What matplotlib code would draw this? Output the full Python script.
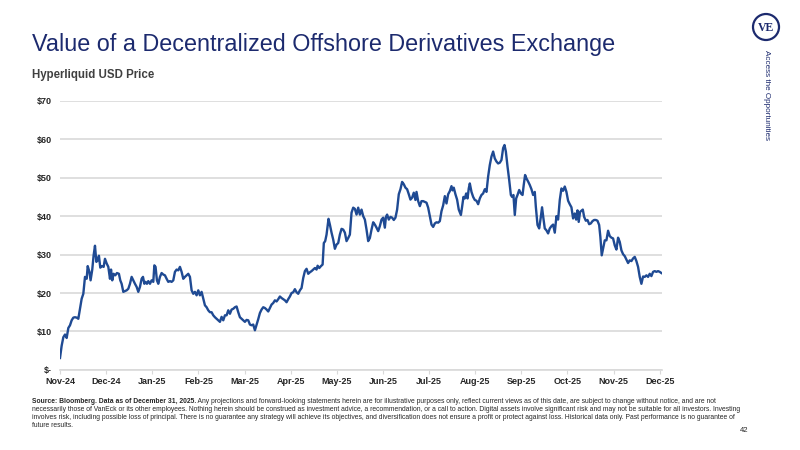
import matplotlib
matplotlib.use("Agg")
import matplotlib.pyplot as plt
from matplotlib.patches import Ellipse

# days since first print (Nov-24) and HYPE price in USD
days = [0.0, 1.1, 2.2, 3.3, 4.4, 5.5, 6.6, 7.7, 8.8, 9.9, 11.0, 12.1, 13.2, 14.3, 15.4, 16.5, 17.6, 18.3, 19.4, 20.2,
        21.3, 22.2, 23.1, 24.0, 24.9, 25.7, 26.6, 27.7, 28.8, 29.7, 30.8, 31.9, 33.0, 33.7, 34.5, 35.4, 36.5, 37.6, 38.9, 39.8,
        40.7, 41.8, 42.9, 44.0, 45.1, 46.2, 47.3, 48.4, 49.5, 50.6, 51.7, 52.8, 53.9, 54.8, 55.7, 56.5, 57.4, 58.3, 59.4, 60.5,
        61.6, 62.3, 63.1, 64.0, 64.9, 66.0, 67.1, 68.2, 69.3, 70.4, 71.5, 72.6, 73.7, 74.8, 75.9, 77.0, 78.1, 79.2, 80.3, 81.4,
        82.5, 83.6, 84.7, 85.8, 86.9, 88.0, 89.1, 90.2, 91.3, 92.4, 93.5, 94.6, 95.7, 96.8, 97.9, 99.0, 100.1, 101.2, 102.3, 103.4,
        104.5, 105.6, 106.7, 107.8, 108.9, 110.0, 111.1, 112.2, 113.3, 114.4, 115.5, 116.6, 117.7, 118.8, 119.9, 121.0, 122.1, 123.2, 124.3, 125.4,
        126.5, 127.6, 128.7,
        130.9, 132.0, 133.1, 134.2, 135.3, 136.4, 137.5, 138.6, 139.7, 140.8, 141.9, 143.0, 144.1, 145.2, 146.3, 147.4, 148.5, 149.6, 150.7, 151.8,
        152.9, 154.0, 155.1, 156.2, 157.3, 158.4, 159.5, 160.6, 161.7, 162.8, 163.9, 165.0, 166.1, 167.2, 168.3, 169.4, 170.1, 171.2, 172.3, 173.4,
        174.2, 175.1, 176.0, 177.3, 178.2, 179.3, 180.4, 181.5, 182.6, 183.7, 184.8, 185.9, 187.0, 188.1, 189.2, 190.3, 191.4, 192.5, 193.6, 194.7,
        195.8, 196.9, 198.0, 199.1, 200.2, 201.3, 202.4, 203.5, 204.6, 205.7, 206.8, 207.9, 209.0, 210.1, 211.2, 212.3, 213.4, 214.5, 215.2, 216.0,
        217.1, 218.2, 219.3, 220.4, 221.5, 222.6, 223.7, 224.8, 225.9, 227.0, 228.1, 229.2, 230.3, 231.4, 232.5, 233.6, 234.7, 235.4, 236.5, 237.6,
        238.7, 239.8, 240.9, 242.0, 243.1, 244.2, 245.3, 246.4, 247.5, 248.6, 249.7, 250.8, 251.9, 253.0, 254.1, 255.2, 256.3, 257.4, 258.5, 259.2,
        260.0, 261.1, 262.2, 263.3, 264.0,
        264.7, 265.5, 266.4, 267.3, 268.2, 269.1, 269.9, 270.6, 271.7, 272.8, 273.9, 275.0, 276.1, 277.2, 278.3, 279.4, 280.5, 281.6, 282.7, 283.8,
        284.9, 286.0, 287.1, 288.2, 289.3, 290.4, 291.5, 292.6, 293.5, 294.4, 295.5, 296.6, 297.7, 298.5, 299.4, 300.3, 301.2, 302.1, 303.2, 304.3,
        305.4, 306.2, 307.1, 308.0, 309.1, 310.2, 311.3, 312.4, 313.5, 314.2, 315.3, 316.4, 317.5, 318.3, 319.2, 320.1, 321.2, 322.3, 323.4, 324.5,
        325.6, 326.7, 327.8, 328.9, 330.0, 331.1, 332.2, 333.3, 334.4, 335.5, 336.6, 337.7, 338.8, 339.9, 340.8, 341.7, 342.5, 343.4, 344.3, 345.2,
        346.1, 347.2, 348.3, 349.4, 350.5, 351.6, 352.7, 353.8, 354.9, 356.0, 356.8, 357.7, 358.6, 359.7, 360.8, 361.9, 363.0, 364.1, 365.2, 366.3,
        367.4, 368.5, 369.6, 370.7, 371.8, 372.9, 374.0, 375.1, 376.2, 377.3, 378.4, 379.5, 380.6, 381.7, 382.8, 383.9, 385.0, 386.1, 387.2, 388.3,
        389.4, 390.5, 391.6, 392.7, 393.8, 394.9, 396.0, 397.1]

price = [3.1, 6.3, 8.5, 9.2, 8.3, 10.9, 11.6, 12.9, 13.6, 13.7, 13.6, 13.3, 15.9, 18.5, 19.8, 24.2, 23.7, 27.0, 25.5, 23.3,
         26.1, 29.8, 32.3, 28.1, 28.5, 29.7, 26.6, 27.0, 26.8, 28.9, 27.7, 26.8, 23.7, 26.1, 23.3, 25.0, 24.6, 25.2, 25.0, 23.3,
         22.4, 20.3, 20.5, 20.7, 21.1, 22.4, 24.2, 23.3, 22.4, 21.6, 20.3, 21.6, 23.7, 24.2, 22.4, 22.9, 22.4, 23.1, 22.4, 23.3,
         22.9, 27.2, 26.8, 23.3, 22.4, 24.2, 25.2, 24.8, 24.6, 23.7, 22.9, 23.1, 22.9, 23.3, 25.5, 26.1, 25.9, 26.8, 25.5, 23.7,
         24.2, 24.6, 25.0, 24.2, 20.7, 19.8, 20.3, 19.4, 20.7, 19.4, 20.3, 18.5, 16.8, 16.3, 15.5, 15.0, 15.0, 14.2, 13.7, 13.3,
         12.9, 12.5, 13.8, 12.9, 14.2, 14.2, 15.5, 14.6, 15.7, 15.9, 16.3, 16.5, 15.0, 13.7, 13.3, 12.9, 12.5, 13.0, 12.9, 11.8,
         11.6, 11.8, 10.3,
         13.2, 14.8, 15.7, 16.3, 16.1, 15.7, 15.2, 16.1, 17.0, 17.4, 18.1, 17.8, 18.4, 19.1, 18.7, 18.4, 18.1, 17.6, 18.4, 19.1,
         20.0, 20.2, 21.0, 20.2, 19.8, 20.7, 21.3, 23.9, 25.7, 26.3, 25.0, 25.4, 25.7, 26.1, 26.5, 26.1, 27.1, 26.5, 27.0, 27.4,
         33.0, 33.5, 35.2, 39.3, 37.8, 35.7, 33.9, 31.5, 32.6, 33.0, 35.2, 36.7, 36.5, 35.7, 33.5, 34.3, 35.2, 40.9, 42.2, 41.9,
         40.4, 42.2, 40.4, 41.7, 40.0, 39.1, 36.5, 33.5, 34.3, 36.5, 38.4, 37.8, 37.0, 36.1, 37.4, 39.1, 39.6, 37.0, 39.8, 40.4,
         39.1, 39.8, 39.6, 39.0, 39.6, 41.7, 45.7, 47.0, 48.9, 48.3, 47.4, 47.0, 45.7, 44.3, 44.8, 46.1, 44.2, 46.3, 43.9, 42.6,
         43.9, 43.9, 43.7, 43.5, 42.2, 40.0, 37.8, 37.2, 38.1, 38.4, 38.3, 38.7, 41.3, 42.8, 45.2, 43.3, 45.7, 46.5, 47.8, 46.7,
         47.4, 45.7, 44.3, 41.7, 41.0,
         40.3, 42.4, 45.0, 44.6, 45.9, 44.6, 47.2, 48.5, 46.3, 45.0, 44.2, 44.0, 43.1, 44.6, 45.5, 45.9, 47.0, 46.3, 50.3, 53.3,
         55.5, 56.8, 55.0, 54.2, 53.7, 53.9, 54.6, 57.7, 58.5, 56.8, 52.9, 49.4, 45.5, 45.0, 45.5, 40.3, 44.6, 45.5, 46.8, 45.9,
         45.5, 48.1, 50.7, 49.8, 49.0, 48.1, 47.0, 45.5, 46.3, 42.4, 37.7, 36.8, 39.8, 42.3, 39.4, 36.8, 36.3, 35.5, 36.8, 37.4,
         37.8, 35.7, 40.0, 39.1, 44.2, 47.2, 46.6, 47.7, 46.3, 44.0, 43.1, 42.3, 39.4, 40.7, 39.1, 41.5, 38.5, 41.1, 41.4, 41.7,
         39.8, 38.8, 39.0, 37.9, 38.1, 38.7, 39.0, 39.0, 38.8, 37.7, 34.6, 29.8, 31.6, 33.7, 33.7, 36.2, 34.8, 34.4, 34.2, 32.4,
         31.3, 34.4, 33.3, 31.1, 30.1, 29.6, 28.7, 27.8, 28.5, 28.3, 29.0, 29.4, 28.3, 26.8, 24.2, 22.4, 24.3, 24.2, 24.6, 24.2,
         25.0, 24.4, 25.5, 25.7, 25.5, 25.7, 25.5, 25.2]

month_labels = ["Nov-24", "Dec-24", "Jan-25", "Feb-25", "Mar-25", "Apr-25", "May-25",
                "Jun-25", "Jul-25", "Aug-25", "Sep-25", "Oct-25", "Nov-25", "Dec-25"]
y_ticks = [0, 10, 20, 30, 40, 50, 60, 70]
y_labels = ["$-", "$10", "$20", "$30", "$40", "$50", "$60", "$70"]

NAVY = "#1c2a6e"
LINE = "#1f4a93"
GRID = "#d9d9d9"
TXT = "#262626"

plt.rcParams["font.family"] = ["Liberation Sans", "DejaVu Sans"]

fig = plt.figure(figsize=(8, 4.5), dpi=100)
ax = fig.add_axes([0.075, 0.178, 0.7525, 0.598])

ax.plot(days, price, color=LINE, linewidth=1.7, solid_joinstyle="round")

span = 396.0
ticks_x = [k * span / (len(month_labels) - 1) for k in range(len(month_labels))]
ax.set_xlim(0, 397.5)
ax.set_ylim(0, 70)
ax.set_xticks(ticks_x)
ax.set_xticklabels(month_labels, fontsize=6.5, fontweight="bold", color=TXT)
ax.set_yticks(y_ticks)
ax.set_yticklabels(y_labels, fontsize=6.5, fontweight="bold", color=TXT)
ax.tick_params(axis="y", length=0, pad=6)
ax.tick_params(axis="x", length=3, color=GRID, pad=2)
ax.grid(axis="y", color=GRID, linewidth=1.2)
ax.set_axisbelow(True)
for s in ["top", "right", "left"]:
    ax.spines[s].set_visible(False)
ax.spines["bottom"].set_color(GRID)
ax.spines["bottom"].set_linewidth(1.2)

# titles
fig.text(0.04, 0.902, "Value of a Decentralized Offshore Derivatives Exchange",
         fontsize=16.8, color=NAVY, va="center")
fig.text(0.04, 0.833, "Hyperliquid USD Price", fontsize=8.3, fontweight="bold",
         color="#404040", va="center")

# logo and side label
fig.patches.append(Ellipse((0.9575, 0.94), 26 / 800, 26 / 450, transform=fig.transFigure,
                           fill=False, edgecolor=NAVY, linewidth=1.6))
fig.text(0.9575, 0.938, "VE", fontsize=8.5, fontweight="bold", family="Liberation Serif",
         color=NAVY, ha="center", va="center")
fig.text(0.958, 0.79, "Access the Opportunities", fontsize=5.9, color=NAVY,
         rotation=-90, ha="center", va="center")

# footnote
foot_family = ["Liberation Sans Narrow", "Liberation Sans"]
fs = 4.9
fig.canvas.draw()
r = fig.canvas.get_renderer()
t0 = fig.text(0.04, 0.107, "Source: Bloomberg. Data as of December 31, 2025.", fontsize=fs,
              fontweight="bold", color=TXT, family=foot_family, va="center")
bb = t0.get_window_extent(renderer=r)
x1 = bb.x1 / fig.bbox.width
fig.text(x1, 0.107, " Any projections and forward-looking statements herein are for illustrative purposes only, "
         "reflect current views as of this date, are subject to change without notice, and are not",
         fontsize=fs, color=TXT, family=foot_family, va="center")
foot_lines = [
    "necessarily those of VanEck or its other employees. Nothing herein should be construed as investment advice, "
    "a recommendation, or a call to action. Digital assets involve significant risk and may not be suitable for all investors. Investing",
    "involves risk, including possible loss of principal. There is no guarantee any strategy will achieve its objectives, "
    "and diversification does not ensure a profit or protect against loss. Historical data only. Past performance is no guarantee of",
    "future results.",
]
for i, line in enumerate(foot_lines):
    fig.text(0.04, 0.107 - (i + 1) * 0.0178, line, fontsize=fs, color=TXT,
             family=foot_family, va="center")

fig.text(0.925, 0.044, "42", fontsize=5.5, color=TXT, va="center")

fig.savefig("out.png", dpi=100, facecolor="white")
